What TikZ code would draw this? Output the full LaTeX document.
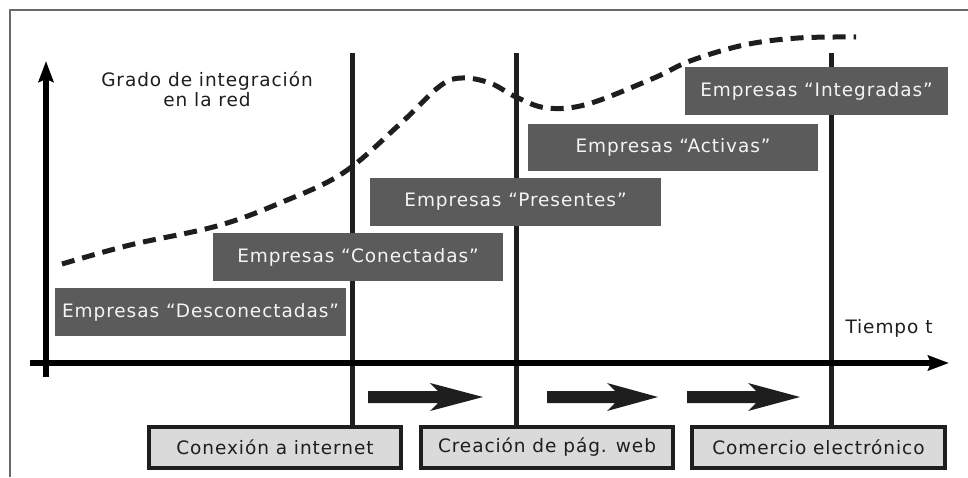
\documentclass[tikz,border=0pt]{standalone}
\usepackage{fontspec}
\setmainfont{DejaVu Sans}[LetterSpace=5]
\usetikzlibrary{arrows.meta}
\definecolor{framegray}{HTML}{6A6A6A}
\definecolor{darkfill}{HTML}{5B5B5B}
\definecolor{lighttext}{HTML}{F4F4F4}
\definecolor{lightfill}{HTML}{DADADA}
\definecolor{ink}{HTML}{1E1E1E}
\tikzset{
  darkbox/.style={fill=darkfill, text=lighttext, inner sep=0pt, minimum height=48},
  stagebox/.style={fill=lightfill, draw=ink, line width=4pt, text=ink, inner sep=0pt, minimum width=252, minimum height=41},
  vline/.style={draw=ink, line width=5pt},
  axis/.style={draw=black, line width=5.5pt, -{Stealth[length=21pt,width=15pt,inset=3pt]}},
  curve/.style={draw=ink, line width=5pt, dash pattern=on 13pt off 8pt},
  blockarrow/.style={fill=ink},
  plain/.style={text=ink, inner sep=0pt}
}
\begin{document}
\begin{tikzpicture}[x=1pt,y=-1pt,font=\fontsize{18.5}{20}\selectfont]
\useasboundingbox (0,0) rectangle (968,477);
\fill[white] (0,0) rectangle (968,477);
% frame
\draw[framegray, line width=1.5pt] (10,477) -- (10,10) -- (968,10);

% stage boxes (bottom)
\node[stagebox] (b1) at (275,447.5) {Conexión a internet};
\node[stagebox] (b2) at (547,447.5) {Creación de pág. web};
\node[stagebox, minimum width=253] (b3) at (818.5,447.5) {Comercio electrónico};

% vertical lines
\coordinate (t1) at (352,53);
\coordinate (t2) at (516,53);
\coordinate (t3) at (831,53);
\draw[vline] (t1) -- (t1 |- b1.north);
\draw[vline] (t2) -- (t2 |- b2.north);
\draw[vline] (t3) -- (t3 |- b3.north);

% axes
\coordinate (yb) at (46,377);
\coordinate (yt) at (46,61);
\coordinate (xl) at (30,363);
\coordinate (xr) at (949,363);
\draw[axis] (yb) -- (yt);
\draw[axis] (xl) -- (xr);

% labels
\node[plain, align=center] (ylab) at (207,89) {Grado de integración\\en la red};
\node[plain] (xlab) at (889,328) {Tiempo t};

% dashed curve
\draw[curve] plot[smooth, tension=0.6] coordinates {(62,264) (130,245) (217,226) (280,203) (343,173) (400,124) (440,86) (462,78) (490,83) (516,97) (547,108) (588,104) (654,78) (690,61) (744,45) (798,38) (856,37)};

% company boxes
\node[darkbox, minimum width=291] (d1) at (200.5,312) {Empresas “Desconectadas”};
\node[darkbox, minimum width=290] (d2) at (358,257) {Empresas “Conectadas”};
\node[darkbox, minimum width=291] (d3) at (515.5,202) {Empresas “Presentes”};
\node[darkbox, minimum width=290, minimum height=47] (d4) at (673,147.5) {Empresas “Activas”};
\node[darkbox, minimum width=263] (d5) at (816.5,91) {Empresas “Integradas”};

% block arrows
\foreach \xs/\xb/\xt in {368/430/483, 547/607/658, 687/748/800}{
  \fill[blockarrow] (\xs,391) -- (\xb+8,391) -- (\xb,383) -- (\xt,397) -- (\xb,411) -- (\xb+8,403) -- (\xs,403) -- cycle;
}
\end{tikzpicture}
\end{document}
